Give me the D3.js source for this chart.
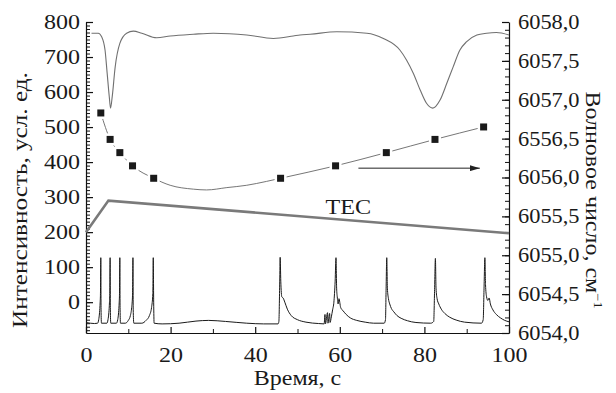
<!DOCTYPE html>
<html>
<head>
<meta charset="utf-8">
<script src="https://cdn.jsdelivr.net/npm/d3@7"></script>
<style>
  body { margin: 0; background: #fff; }
  text { font-family: "Liberation Serif", serif; fill: #1a1a1a; }
</style>
</head>
<body>
<svg id="chart" width="616" height="393"></svg>
<script>
// squares: wavenumber (right axis) measured at each spectrum peak
const markerTime = [3.5, 5.7, 8, 11, 16, 46, 59, 71, 82.5, 94];
const markerWave = [6056.83, 6056.49, 6056.32, 6056.15, 6055.99, 6055.99, 6056.15, 6056.32, 6056.49, 6056.65];

// thin line through the squares
const fitTime = [3.5, 5.7, 8, 11, 16, 19.9, 25.4, 28.5, 33.3, 38, 42.7, 46, 59, 71, 82.5, 94];
const fitWave = [6056.83, 6056.49, 6056.32, 6056.15, 6055.99, 6055.90, 6055.85, 6055.84, 6055.87, 6055.90, 6055.95, 6055.99, 6056.15, 6056.32, 6056.49, 6056.65];

// TEC ramp (left axis)
const tecTime = [0, 5.3, 100];
const tecValue = [200, 290, 197];

// upper trace (left axis)
const topTime = [1.3, 2.9, 3.7, 4.5, 5.0, 5.5, 5.8, 6.2, 6.9, 8.0, 9.6, 11.2, 13.2, 16.7, 19.9, 25.4, 30.1, 38, 44.3, 49, 50.6, 53, 59.3, 66.4, 70.3, 74.2, 75.8, 77.4, 79, 80.5, 82, 83.7, 85.3, 86.8, 88.4, 90, 92.4, 94.7, 97, 100];
const topValue = [768, 768, 758, 720, 654, 587, 554, 587, 672, 739, 768, 774, 768, 755, 760, 765, 768, 763, 753, 760, 763, 765, 772, 768, 753, 720, 691, 653, 606, 568, 554, 577, 625, 672, 720, 744, 763, 768, 770, 763];

// lower trace: transmission spectrum (left axis)
const specTime = [0, 1, 2, 2.75, 3.0, 3.2, 3.35, 3.42, 3.5, 3.56, 3.65,
  4.95, 5.2, 5.4, 5.55, 5.62, 5.7, 5.76, 5.85,
  7.2, 7.5, 7.7, 7.85, 7.92, 8.0, 8.06, 8.15,
  9.3, 10, 10.5, 10.8, 11.0, 11.1, 11.16, 11.3,
  13.2, 14.2, 15, 15.5, 15.8, 15.9, 16.0, 16.1,
  18, 22, 26, 29, 33, 38, 42, 45.4,
  45.6, 45.8, 45.9, 46.05, 46.3, 46.6, 47, 47.6, 48.5, 50, 52, 55, 56.3,
  56.5, 56.6, 57.1, 57.2, 57.6, 57.7, 58.0, 58.3, 58.6, 58.9, 59.1, 59.25, 59.4, 59.6, 59.8, 60.2, 60.8, 61.5, 62.5, 64, 66, 68, 70.5,
  70.8, 70.95, 71.1, 71.25, 71.5, 71.8, 72.2, 72.8, 73.5, 74.5, 76, 78, 81.5,
  82.2, 82.4, 82.6, 82.75, 83, 83.4, 84, 84.8, 86, 87.5, 89.5, 93.5,
  93.9, 94.1, 94.3, 94.45, 94.7, 95, 95.3, 95.6, 96.2, 97, 98, 99, 100];
const specValue = [-58, -60, -61, -60, -50, -30, 0, 25, 127, -20, -60,
  -60, -50, -30, 0, 25, 127, -20, -60,
  -60, -50, -30, 0, 25, 127, -20, -60,
  -60, -52, -38, -15, 20, 127, -20, -60,
  -60, -52, -38, -15, 25, 127, 0, -60,
  -62, -60, -54, -52, -55, -60, -62, -62,
  -55, 60, 128, 60, 15, 12, 0, -20, -38, -50, -57, -61, -62,
  -35, -62, -30, -60, -32, -58, -42, -22, 0, 60, 127, 40, 15, -5, 10, -15, -25, -35, -45, -52, -57, -60, -60,
  -50, 40, 127, 40, 10, -5, -18, -28, -38, -46, -53, -58, -60,
  -55, 30, 125, 40, 10, -5, -20, -32, -43, -51, -57, -60,
  -50, 40, 127, 50, 15, 5, 12, -5, -22, -35, -45, -52, -56];

// arrow (right axis)
const arrowTime = [64.4, 93.1];
const arrowWave = 6056.12;

const xTicks = [0, 20, 40, 60, 80, 100];
const leftTicks = [0, 100, 200, 300, 400, 500, 600, 700, 800];
const rightTicks = [6054, 6054.5, 6055, 6055.5, 6056, 6056.5, 6057, 6057.5, 6058];
const rightLabels = ["6054,0", "6054,5", "6055,0", "6055,5", "6056,0", "6556,5", "6057,0", "6057,5", "6058,0"];

const SX = 1.2;  // the lettering is wide in the original
const SXR = 1.12;
const FONT = '"Liberation Serif", "Times New Roman", serif';

const svg = d3.select("#chart");
const margin = { left: 86, right: 107, top: 22, bottom: 60 };
const W = 616, H = 393;

const x = d3.scaleLinear().domain([0, 100]).range([margin.left, W - margin.right]);
const yL = d3.scaleLinear().domain([-88, 800]).range([H - margin.bottom, margin.top]);
const yR = d3.scaleLinear().domain([6054, 6058]).range([H - margin.bottom, margin.top]);

function stretch(g, s) {
  g.selectAll("text").each(function () {
    const t = d3.select(this);
    const tx = +t.attr("x") || 0;
    t.attr("x", tx / s).attr("transform", `scale(${s},1)`);
  });
}

// minor ticks first
svg.append("g")
  .attr("transform", `translate(${margin.left},0)`)
  .call(d3.axisLeft(yL).tickValues(d3.range(-80, 801, 10)).tickSize(-4).tickFormat(""))
  .call(g => g.select(".domain").remove());
svg.append("g")
  .attr("transform", `translate(${W - margin.right},0)`)
  .call(d3.axisRight(yR).tickValues(d3.range(60540, 60581, 1).map(d => d / 10)).tickSize(-4).tickFormat(""))
  .call(g => g.select(".domain").remove());
svg.append("g")
  .attr("transform", `translate(0,${H - margin.bottom})`)
  .call(d3.axisBottom(x).tickValues(d3.range(10, 100, 20)).tickSize(-4).tickFormat(""))
  .call(g => g.select(".domain").remove());

// major axes
const gx = svg.append("g")
  .attr("transform", `translate(0,${H - margin.bottom})`)
  .call(d3.axisBottom(x).tickValues(xTicks).tickSizeInner(-6).tickSizeOuter(0).tickPadding(15));
const gl = svg.append("g")
  .attr("transform", `translate(${margin.left},0)`)
  .call(d3.axisLeft(yL).tickValues(leftTicks).tickSizeInner(-7).tickSizeOuter(0).tickPadding(6));
const gr = svg.append("g")
  .attr("transform", `translate(${W - margin.right},0)`)
  .call(d3.axisRight(yR).tickValues(rightTicks).tickSizeInner(-7).tickSizeOuter(0).tickPadding(9)
    .tickFormat((d, i) => rightLabels[i]));

[gx, gl, gr].forEach(g => {
  g.attr("font-family", null);
  g.selectAll("text").attr("font-size", 20).style("font-family", FONT).style("fill", "#1a1a1a");
  g.selectAll("line, path").attr("stroke", "#111").attr("stroke-width", 1.2);
});
stretch(gx, SX);
stretch(gl, SX);
stretch(gr, SXR);
svg.selectAll("g line").attr("stroke", "#111");

// traces
const lineL = (ts, vs) => d3.line().curve(d3.curveMonotoneX)
  .x((d, i) => x(ts[i])).y((d, i) => yL(vs[i]))(ts);

svg.append("path").attr("d", lineL(topTime, topValue))
  .attr("fill", "none").attr("stroke", "#707070").attr("stroke-width", 1.1);

svg.append("path").attr("d", lineL(specTime, specValue))
  .attr("fill", "none").attr("stroke", "#1a1a1a").attr("stroke-width", 1);

svg.append("path")
  .attr("d", d3.line().x((d, i) => x(tecTime[i])).y((d, i) => yL(tecValue[i]))(tecTime))
  .attr("fill", "none").attr("stroke", "#7a7a7a").attr("stroke-width", 2.6);

svg.append("path")
  .attr("d", d3.line().curve(d3.curveMonotoneX).x((d, i) => x(fitTime[i])).y((d, i) => yR(fitWave[i]))(fitTime))
  .attr("fill", "none").attr("stroke", "#666").attr("stroke-width", 0.9);

// squares with a white gap around them
const sq = 7;
svg.append("g").selectAll("rect").data(markerTime).join("rect")
  .attr("x", (d) => x(d) - sq / 2 - 2.5).attr("y", (d, i) => yR(markerWave[i]) - sq / 2 - 2.5)
  .attr("width", sq + 5).attr("height", sq + 5).attr("fill", "#fff");
svg.append("g").selectAll("rect").data(markerTime).join("rect")
  .attr("x", (d) => x(d) - sq / 2).attr("y", (d, i) => yR(markerWave[i]) - sq / 2)
  .attr("width", sq).attr("height", sq).attr("fill", "#1a1a1a");

// arrow
svg.append("defs").append("marker")
  .attr("id", "head").attr("viewBox", "0 0 10 6").attr("refX", 10).attr("refY", 3)
  .attr("markerWidth", 10).attr("markerHeight", 6).attr("markerUnits", "userSpaceOnUse")
  .attr("orient", "auto")
  .append("path").attr("d", "M0,0L10,3L0,6Z").attr("fill", "#222");
svg.append("line")
  .attr("x1", x(arrowTime[0])).attr("x2", x(arrowTime[1]))
  .attr("y1", yR(arrowWave)).attr("y2", yR(arrowWave))
  .attr("stroke", "#222").attr("stroke-width", 1).attr("marker-end", "url(#head)");

// TEC label
svg.append("text").attr("x", x(62) / 1.1).attr("y", yL(252))
  .attr("transform", "scale(1.1,1)").style("font-family", FONT)
  .attr("text-anchor", "middle").attr("font-size", 22).text("TEC");

// axis titles
svg.append("text").attr("transform", `translate(${(x(0) + x(100)) / 2},385) scale(${SX},1)`)
  .style("font-family", FONT)
  .attr("text-anchor", "middle").attr("font-size", 20).text("Время, с");
svg.append("text").attr("transform", `translate(27,200) rotate(-90) scale(${SX},1)`)
  .style("font-family", FONT)
  .attr("text-anchor", "middle").attr("font-size", 21).text("Интенсивность, усл. ед.");
const rt = svg.append("text").attr("transform", `translate(586,200) rotate(90) scale(${SX},1)`)
  .style("font-family", FONT)
  .attr("text-anchor", "middle").attr("font-size", 20);
rt.append("tspan").text("Волновое число, см");
rt.append("tspan").attr("dy", -8).attr("font-size", 12).text("−1");
</script>
</body>
</html>
